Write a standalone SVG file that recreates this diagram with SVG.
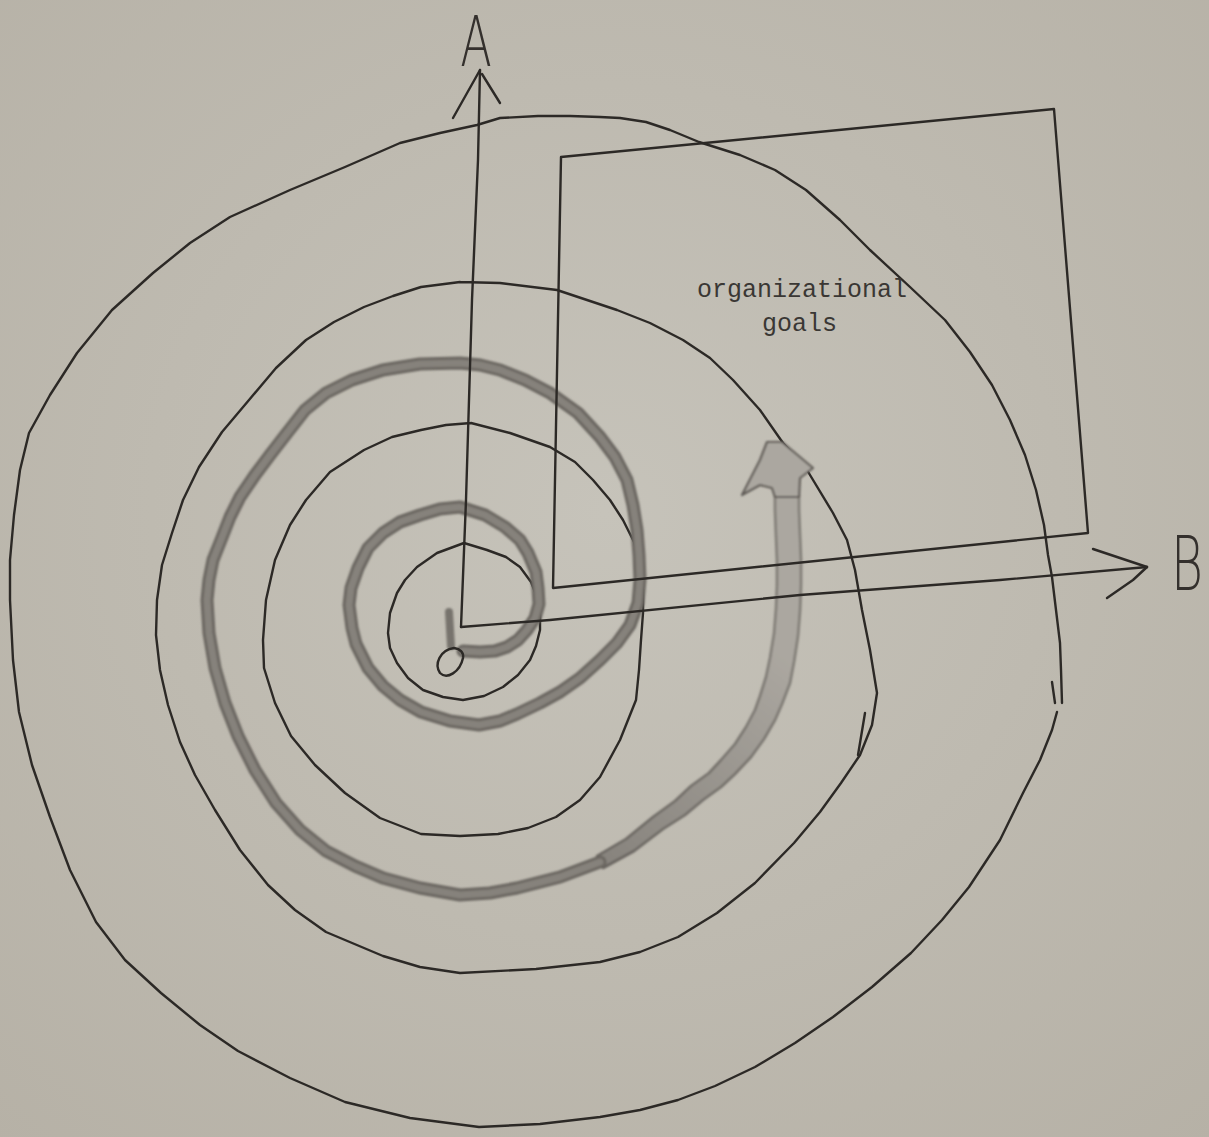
<svg xmlns="http://www.w3.org/2000/svg" width="1209" height="1137" viewBox="0 0 1209 1137">
<defs>
<radialGradient id="paper" cx="0.5" cy="0.45" r="0.75">
<stop offset="0" stop-color="#c6c3ba"/>
<stop offset="1" stop-color="#b6b1a6"/>
</radialGradient>
<linearGradient id="coreG" gradientUnits="userSpaceOnUse" x1="600" y1="870" x2="775" y2="650">
<stop offset="0" stop-color="#86827c"/>
<stop offset="1" stop-color="#aba7a0"/>
</linearGradient>
<linearGradient id="edgeG" gradientUnits="userSpaceOnUse" x1="600" y1="870" x2="775" y2="650">
<stop offset="0" stop-color="#65615c"/>
<stop offset="1" stop-color="#7f7b75"/>
</linearGradient>
<filter id="soft" x="-5%" y="-5%" width="110%" height="110%">
<feGaussianBlur stdDeviation="0.9"/>
</filter>
<style>
.pen{fill:none;stroke:#2c2926;stroke-width:2.4;stroke-linejoin:round;stroke-linecap:round}
.rimD{fill:none;stroke:#6a6661;stroke-width:13;stroke-linejoin:round;stroke-linecap:round}
.coreD{fill:none;stroke:#86827c;stroke-width:7;stroke-linejoin:round;stroke-linecap:round}
.hand{font-family:"DejaVu Sans","Liberation Sans",sans-serif;font-weight:200;fill:#34302d}
.type{font-family:"Liberation Mono","DejaVu Sans Mono",monospace;font-size:25px;fill:#3a3734}
</style>
</defs>
<rect width="1209" height="1137" fill="url(#paper)"/>

<g id="spiral-thin">
<polyline class="pen" points="1062,703 1061,670 1060,643 1056,610 1052,577 1048,555 1044,525 1036,490 1025,455 1010,420 992,385 970,352 945,320 910,287 870,250 840,220 806,190 775,170 740,155 699,142 670,130 646,122 620,118 600,117 570,116 538,116 500,118 477,125 440,133 400,143 345,167 290,190 230,217 190,243 153,273 112,310 77,353 50,395 29,433 20,470 14,515 10,560 10,600 13,660 19,712 32,765 50,817 70,870 96,922 125,960 161,993 200,1025 238,1051 290,1078 345,1102 410,1118 479,1127 540,1124 600,1117 640,1110 678,1100 715,1086 755,1067 795,1043 833,1017 872,987 911,953 942,920 969,887 1000,840 1023,793 1040,760 1052,730 1057,712"/>
<polyline class="pen" points="1052,682 1055,703"/>
<polyline class="pen" points="460,282 500,283 557,290 617,310 650,323 683,340 710,358 733,380 760,410 783,443 807,470 833,513 847,540 855,570 862,610 870,650 877,693 872,725 860,755 841,783 820,812 794,843 755,883 717,913 678,937 640,952 600,962 536,969 460,973 420,967 383,956 326,932 295,910 268,885 240,850 215,810 195,775 180,742 168,705 160,670 156,635 157,600 162,565 172,533 183,500 199,467 222,432 249,400 276,368 306,340 334,322 364,307 393,296 421,287 460,282"/>
<polyline class="pen" points="865,713 858,755"/>
<polyline class="pen" points="471,423 510,433 550,447 575,462 593,480 610,500 623,520 634,542 640,563 643,590 643,613 641,640 639,670 636,700 620,740 600,777 580,800 556,817 528,828 498,834 460,836 421,834 380,818 345,793 315,765 291,736 275,703 264,668 263,640 266,600 275,560 290,525 306,500 330,472 364,450 392,437 421,430 446,425 471,423"/>
<polyline class="pen" points="464,543 487,550 506,557 520,567 531,582 537,597 540,615 540,630 536,646 530,660 518,675 503,687 484,696 463,700 443,697 423,690 408,678 397,663 390,648 388,633 390,613 397,593 405,580 417,567 437,553 464,543"/>
</g>

<g id="spiral-thick" filter="url(#soft)">
<polygon fill="url(#coreG)" stroke="url(#edgeG)" stroke-width="2.6" stroke-linejoin="round" points="603,868 634,851 663,829 685,815 703,800 721,787 735,774 751,757 764,739 775,720 782,704 790,683 794,662 798,636 800,611 801,585 801,560 800,535 799,510 799,495 775,495 775,510 776,536 777,560 777,585 776,609 774,634 770,658 766,677 760,696 755,710 746,727 735,744 721,760 709,773 691,786 675,801 653,817 626,839 597,856"/>
<path d="M 775,497 L 772,488 L 760,485 L 742,495 L 760,460 L 767,442 L 782,442 L 813,468 L 800,478 L 799,497 Z" fill="#aba7a0" stroke="#5e5a55" stroke-width="2.2" stroke-linejoin="round"/>
<polyline class="rimD" points="463,651 480,652 495,651 507,647 518,640 527,630 535,618 539,604 538,588 536,572 528,553 520,540 505,527 485,515 460,507 440,509 420,515 400,522 383,533 368,548 358,568 351,588 349,605 352,628 356,644 368,668 383,686 400,700 421,712 450,721 479,725 500,721 517,714 540,703 560,692 580,678 600,660 617,643 630,625 638,603 640,580 639,555 637,530 633,505 627,480 615,457 600,437 578,413 550,393 525,380 500,370 480,365 460,363 420,364 383,370 352,380 326,393 305,410 287,433 270,455 255,475 240,497 230,517 221,540 213,560 209,580 207,600 209,633 215,668 225,703 238,736 255,770 276,803 300,830 326,851 355,866 383,878 420,888 460,895 490,893 517,888 560,877 600,862"/>
<polyline class="coreD" points="463,651 480,652 495,651 507,647 518,640 527,630 535,618 539,604 538,588 536,572 528,553 520,540 505,527 485,515 460,507 440,509 420,515 400,522 383,533 368,548 358,568 351,588 349,605 352,628 356,644 368,668 383,686 400,700 421,712 450,721 479,725 500,721 517,714 540,703 560,692 580,678 600,660 617,643 630,625 638,603 640,580 639,555 637,530 633,505 627,480 615,457 600,437 578,413 550,393 525,380 500,370 480,365 460,363 420,364 383,370 352,380 326,393 305,410 287,433 270,455 255,475 240,497 230,517 221,540 213,560 209,580 207,600 209,633 215,668 225,703 238,736 255,770 276,803 300,830 326,851 355,866 383,878 420,888 460,895 490,893 517,888 560,877 600,862"/>
<polyline points="449,612 451,646" fill="none" stroke="#77736d" stroke-width="8" stroke-linecap="round"/>
</g>
<path class="pen" d="M 454,648 C 440,650 434,664 440,673 C 447,680 460,672 463,658 C 464,652 460,649 454,648"/>

<g id="axes">
<polyline class="pen" points="461,627 466,500 472,300 478,160 480,70"/>
<polyline class="pen" points="453,118 480,70"/>
<polyline class="pen" points="482,74 500,103"/>
<polyline class="pen" points="461,627 550,620 800,595 1000,580 1147,567"/>
<polyline class="pen" points="1093,549 1117,557 1147,567"/>
<polyline class="pen" points="1107,598 1133,580 1147,567"/>
<text class="hand" font-size="70" text-anchor="middle" transform="translate(476,66) scale(0.66,1)">A</text>
<text class="hand" font-size="74" text-anchor="middle" transform="translate(1187,590) scale(0.66,1)">B</text>
</g>

<g id="goals">
<polygon class="pen" points="561,157 1054,109 1088,533 553,588"/>
<text class="type" x="697" y="297">organizational</text>
<text class="type" x="762" y="331">goals</text>
</g>
</svg>
